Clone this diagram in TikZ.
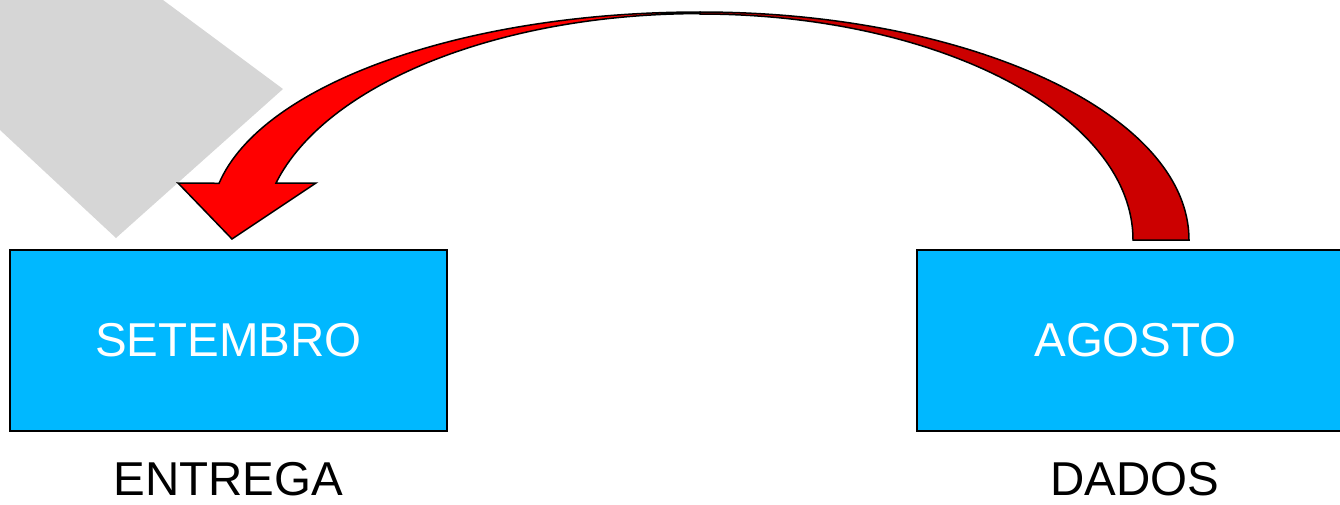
\documentclass[tikz,border=0pt]{standalone}
\usepackage{fontspec}
\setmainfont{Liberation Sans}
\usepackage{tikz}
\usepackage{xcolor}
\definecolor{ccyan}{RGB}{0,184,255}
\definecolor{crouge}{RGB}{255,0,0}
\definecolor{crougefonce}{RGB}{204,0,0}
\definecolor{cgris}{RGB}{214,214,214}

\begin{document}
\begin{tikzpicture}[x=1pt,y=-1pt,
  boite/.style={draw=black,line width=2pt,fill=ccyan,text=white,minimum width=437pt,minimum height=181pt,inner sep=0pt,font=\fontsize{47.5}{57}\selectfont},
  etiquette/.style={text=black,inner sep=0pt,font=\fontsize{47.5}{57}\selectfont},
  fleche/.style={draw=black,line width=1.5pt,line join=miter}]
\useasboundingbox (0,0) rectangle (1340,504);
\fill[cgris] (0,0) -- (163,0) -- (283,89) -- (116,238) -- (0,130) -- cycle;
\node[boite] (setembro) at (228.5,340.5) {SETEMBRO};
\node[boite] (agosto) at (1135.5,340.5) {AGOSTO};
\node[etiquette] (entrega) at (228.5,479) {ENTREGA};
\node[etiquette] (dados) at (1135,479) {DADOS};
\coordinate (base) at (1189,240);
\coordinate (sommet) at (700,12);
\coordinate (pointe) at (232,239);
\fill[crougefonce,fleche] (base) arc[start angle=0,end angle=-90,x radius=489,y radius=228] -- (700,14) arc[start angle=-90,end angle=0,x radius=433,y radius=226] -- cycle;
\fill[crouge,fleche] (sommet) arc[start angle=-90,end angle=-169.6,x radius=489,y radius=209] -- (178,183) -- (pointe) -- (316,183) -- (276,183) arc[start angle=-165.5,end angle=-90,x radius=438,y radius=226] -- cycle;
\end{tikzpicture}
\end{document}
